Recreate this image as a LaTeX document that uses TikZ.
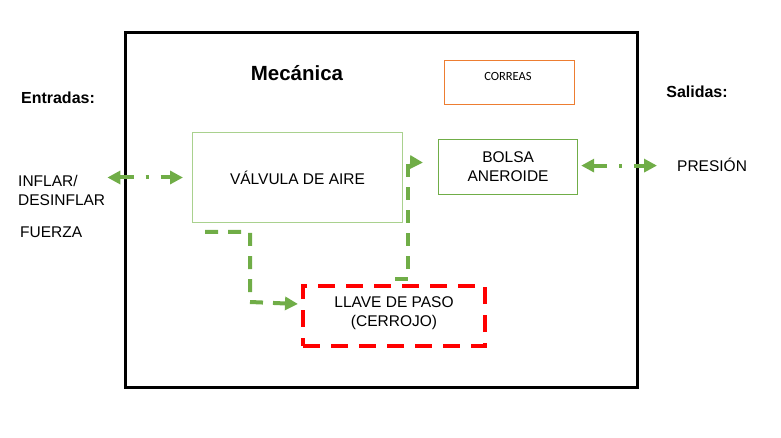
\documentclass[tikz,border=0pt]{standalone}
\usepackage{fontspec}
\setmainfont{Liberation Sans}
\newfontfamily\calibri{Carlito}
\usetikzlibrary{arrows.meta}
\definecolor{flowgreen}{HTML}{70AD47}
\definecolor{lightgreen}{HTML}{A9D18E}
\definecolor{boxorange}{HTML}{ED7D31}

\begin{document}
\begin{tikzpicture}[
                x=1pt, y=-1pt,
                every node/.style={
                        inner sep=0pt,
                        align=center,
                        font=\fontsize{15.5}{19}\selectfont
                    },
                block/.style={draw, anchor=north west},
                title/.style={font=\fontsize{16}{19}\selectfont\bfseries},
                flow/.style={draw=flowgreen, line width=4pt,
                        dash pattern=on 13pt off 10pt,
                        -{Triangle[length=13pt, width=13pt]}},
                io/.style={draw=flowgreen, line width=4pt,
                        dash pattern=on 14pt off 12pt on 3pt off 12pt,
                        {Triangle[length=13pt, width=13pt]}-{Triangle[length=13pt, width=13pt]}}
            ]
            \useasboundingbox (0, 0) rectangle (781, 438);

            % outer frame
            \draw[line width=3pt] (125, 33) rectangle (637, 387);

            \node[title] (mec) at (297, 73) {\fontsize{20.5}{24}\selectfont Mecánica};
            \node[title] (ent) at (58, 98) {Entradas:};
            \node[title] (sal) at (697, 92) {Salidas:};

            % blocks
            \node[block, draw=boxorange, line width=1.3pt,
                minimum width=130pt, minimum height=44pt] (correas) at (444, 60) {};
            \node[font=\calibri\fontsize{12.5}{15}\selectfont] at (508, 76) {CORREAS};
            \node[block, draw=lightgreen, line width=1pt,
                minimum width=210pt, minimum height=90pt] (valvula) at (192, 132) {VÁLVULA DE AIRE};
            \node[block, draw=flowgreen, line width=1.2pt,
                minimum width=139pt, minimum height=55pt] (bolsa) at (438, 139) {BOLSA\\ANEROIDE};
            \node[block, draw=red, line width=4pt, dash pattern=on 17pt off 11pt,
                minimum width=182pt, minimum height=60pt] (llave) at (301, 284) {};
            \node (llavetxt) at ([yshift=2.5pt]llave.center) {LLAVE DE PASO\\(CERROJO)};

            % inputs / outputs
            \node[anchor=west, align=left] (inflar) at (18, 190) {INFLAR/\\DESINFLAR};
            \node[anchor=west] (fuerza) at (20, 232) {FUERZA};
            \node[anchor=west] (presion) at (677, 165) {PRESIÓN};

            \draw[io, shorten <=2pt, shorten >=9pt] (valvula.west -| inflar.east) -- (valvula.west);
            \draw[io, shorten <=3pt, shorten >=20pt] ([yshift=1.5pt]bolsa.east) -- ([yshift=1.5pt]bolsa.east -| presion.west);

            \coordinate (v1) at (205, 232);
            \coordinate (l2) at (395, 279);
            \draw[flow] (v1) -| (250, 302) -- ([xshift=-3pt, yshift=12pt]llave.west);
            \draw[flow] (l2) -| (408, 162) -- ([xshift=-15pt, yshift=4.5pt]bolsa.west);

        \end{tikzpicture}
\end{document}
